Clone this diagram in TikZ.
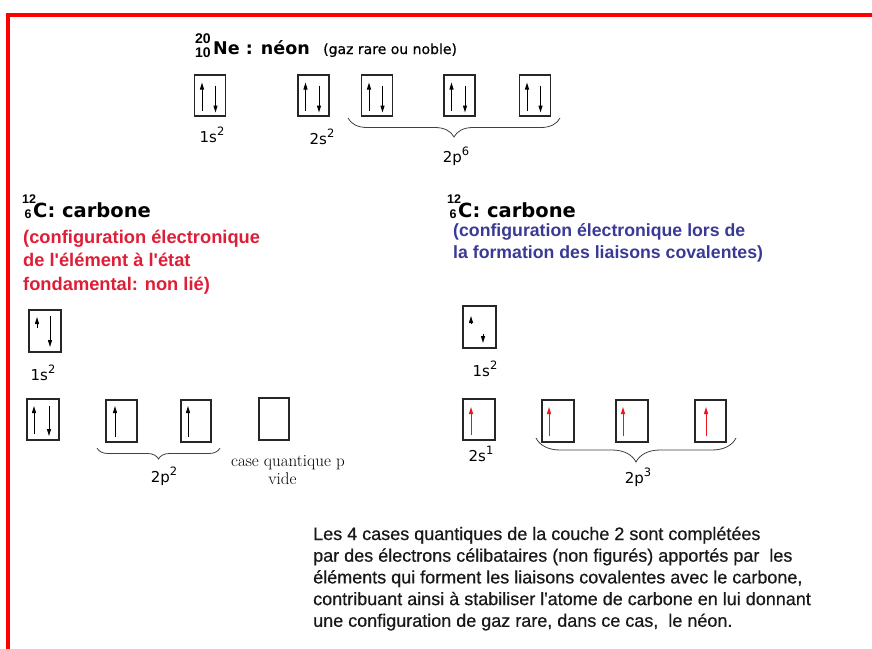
\documentclass[tikz,border=0pt]{standalone}
\usepackage{fontspec}
\newfontfamily\arial{Liberation Sans}
\newfontfamily\arialm[FakeBold=0.6]{Liberation Sans}
\newfontfamily\dvs{DejaVu Sans}
\newfontfamily\dvsm[FakeBold=0.6]{DejaVu Sans}
\usetikzlibrary{arrows.meta,decorations.pathreplacing}
\definecolor{txtred}{RGB}{222,30,55}
\definecolor{txtblue}{RGB}{58,58,150}
\definecolor{framered}{RGB}{255,0,0}
\definecolor{elred}{RGB}{235,20,30}
\newcommand\fs[1]{\fontsize{#1}{#1}\selectfont}
\newcommand\supx[1]{\raisebox{0.45em}{\fontsize{11.5}{11.5}\selectfont #1}}
\newcommand\pairspin[2]{%
  \draw[spin] ({#1-8},{#2+15}) -- ({#1-8},{#2-13});
  \draw[spin] ({#1+5.5},{#2-10}) -- ({#1+5.5},{#2+17});}
\begin{document}
\begin{tikzpicture}[x=1pt,y=-1pt,
  orbbox/.style={draw=black!85,line width=1.2pt,inner sep=0pt,minimum width=31pt,minimum height=41pt},
  spin/.style={line width=1pt,-{Triangle[length=7pt,width=4pt]}},
  redspin/.style={spin,draw=elred,fill=elred},
  lbl/.style={font=\dvs\fs{15},anchor=base,inner sep=0pt},
  supnum/.style={font=\arial\bfseries\fs{#1},anchor=base west,inner sep=0pt},
  titl/.style={font=\dvs\bfseries\fs{#1},anchor=base west,inner sep=0pt},
  redtxt/.style={font=\arial\bfseries\fs{18.3},text=txtred,anchor=base west,inner sep=0pt},
  bluetxt/.style={font=\arial\bfseries\fs{17.7},text=txtblue,anchor=base west,inner sep=0pt},
  paratxt/.style={font=\arialm\fs{18},text=black!90,anchor=base west,inner sep=0pt},
  brc/.style={draw=black!75,line width=0.8pt,decorate,decoration={brace,mirror,amplitude=#1}}]
\useasboundingbox (0,0) rectangle (872,648);
\clip (0,0) rectangle (872,648);
\draw[framered,line width=4pt] (890,15) -- (8,15) -- (8,670);

% ---- Neon
\node[supnum=14] (ne20) at (195,43) {20};
\node[supnum=14] (ne10) at (195,57.5) {10};
\node[titl=17.5] (netitle) at (213,54) {Ne : néon};
\node[font=\dvsm\fs{14},anchor=base west,inner sep=0pt] (negaz) at (323,54) {(gaz rare ou noble)};
\node[orbbox] (ne1s) at (210,95.5) {};
\node[orbbox] (ne2s) at (313.5,95.5) {};
\node[orbbox] (ne2pa) at (377,95.5) {};
\node[orbbox] (ne2pb) at (459.5,95.5) {};
\node[orbbox] (ne2pc) at (535,95.5) {};
\foreach \c in {210,313.5,377,459.5,535} {\pairspin{\c}{95.5}}
\node[lbl] (nel1) at (212,142) {1s\supx{2}};
\node[lbl] (nel2) at (322,144) {2s\supx{2}};
\node[lbl] (nel3) at (456,162) {2p\supx{6}};
\coordinate (nebl) at (348,118);
\coordinate (nebr) at (560,118);
\draw[brc=19pt] (nebl) -- (nebr);

% ---- Carbon, ground state
\node[supnum=12.5] (cl12) at (22,203.5) {12};
\node[supnum=12.5] (cl6) at (24.5,218.5) {6};
\node[titl=19.5] (cltitle) at (33,217) {C: carbone};
\node[redtxt] (red1) at (23,243) {(configuration électronique};
\node[redtxt] (red2) at (23,266.5) {de l'élément à l'état};
\node[redtxt] (red3) at (23,290) {fondamental: non lié)};
\node[orbbox,minimum width=32pt,minimum height=42pt] (c1s) at (45,331) {};
\draw[spin] (37,328) -- (37,317);
\draw[spin] (50,316) -- (50,347);
\node[orbbox,minimum width=32pt] (c2s) at (43,419.5) {};
\draw[spin] (34,434) -- (34,406);
\draw[spin] (49,406) -- (49,436);
\node[orbbox,minimum height=42pt] (c2pa) at (121.5,421) {};
\draw[spin] (115,437) -- (115,406);
\node[orbbox,minimum width=30pt,minimum height=42pt] (c2pb) at (196,421) {};
\draw[spin] (188,437) -- (188,406);
\node[orbbox,minimum width=30pt,minimum height=42pt] (c2pc) at (274,419) {};
\coordinate (cbl) at (97,448);
\coordinate (cbr) at (220,448);
\draw[brc=11pt] (cbl) -- (cbr);
\node[lbl] (cl1s) at (43,380) {1s\supx{2}};
\node[lbl] (cl2p) at (164,482) {2p\supx{2}};
\node[font=\rmfamily\fs{17},anchor=base,inner sep=0pt] (cvide1) at (288,466) {case quantique p};
\node[font=\rmfamily\fs{17},anchor=base,inner sep=0pt] (cvide2) at (282.5,484) {vide};

% ---- Carbon, bonded
\node[supnum=12.5] (cr12) at (447,203.5) {12};
\node[supnum=12.5] (cr6) at (449.5,218.5) {6};
\node[titl=19.5] (crtitle) at (458,217) {C: carbone};
\node[bluetxt] (blue1) at (453,236) {(configuration électronique lors de};
\node[bluetxt] (blue2) at (453,258) {la formation des liaisons covalentes)};
\node[orbbox,minimum width=33pt,minimum height=42pt] (r1s) at (479.5,327) {};
\draw[spin] (471,324) -- (471,316);
\draw[spin] (483,334) -- (483,343);
\node[orbbox,minimum width=32pt] (r2s) at (479,419.5) {};
\draw[redspin] (471,435) -- (471,407);
\node[orbbox,minimum width=32pt,minimum height=42pt] (r2pa) at (558,421) {};
\draw[redspin] (549,436) -- (549,407);
\node[orbbox,minimum width=32pt,minimum height=42pt] (r2pb) at (632,421) {};
\draw[redspin] (623,436) -- (623,407);
\node[orbbox,minimum height=42pt] (r2pc) at (710.5,421) {};
\draw[redspin] (706,436) -- (706,407);
\coordinate (rbl) at (536,438);
\coordinate (rbr) at (736,438);
\draw[brc=24pt] (rbl) -- (rbr);
\node[lbl] (cr1s) at (485,376) {1s\supx{2}};
\node[lbl] (cr2s) at (481,461) {2s\supx{1}};
\node[lbl] (cr2p) at (638,483) {2p\supx{3}};

% ---- Paragraph
\node[paratxt] (p1) at (313,540) {Les 4 cases quantiques de la couche 2 sont complétées};
\node[paratxt] (p2) at (313,561.7) {par des électrons célibataires (non figurés) apportés par~ les};
\node[paratxt] (p3) at (313,583.4) {éléments qui forment les liaisons covalentes avec le carbone,};
\node[paratxt] (p4) at (313,605.1) {contribuant ainsi à stabiliser l'atome de carbone en lui donnant};
\node[paratxt] (p5) at (313,626.8) {une configuration de gaz rare, dans ce cas,~ le néon.};
\end{tikzpicture}
\end{document}
